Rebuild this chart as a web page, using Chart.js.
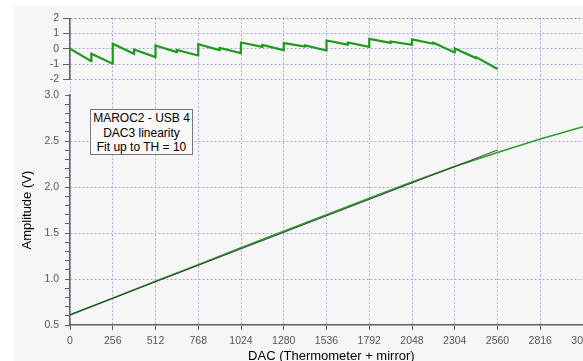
<!DOCTYPE html>
<html>
<head>
<meta charset="utf-8">
<script src="https://cdn.jsdelivr.net/npm/chart.js@4"></script>
<style>
  html, body { margin: 0; padding: 0; background: #fff; overflow: hidden; width: 583px; height: 361px; }
  #panel { position: absolute; left: 14px; top: 6px; width: 620px; height: 370px; background: #f6f6f6; }
  #wrap { position: absolute; left: 0; top: 0; width: 620px; height: 370px; }
  #note {
    position: absolute; left: 90px; top: 109px; width: 101px; height: 43px;
    padding-top: 1px; border: 1px solid #777; background: #f9f9f9;
    font: 12px "Liberation Sans", Arial, sans-serif; color: #000;
    text-align: center; line-height: 14.5px;
  }
</style>
</head>
<body>
<div id="panel"><div id="wrap"><canvas id="c"></canvas></div></div>
<div id="note">MAROC2 - USB 4<br>DAC3 linearity<br>Fit up to TH = 10</div>
<script>
// Residuals of the DAC3 scan with respect to the linear fit (upper panel)
const resDac = [0, 127, 128, 255,
                256, 383, 384, 511,
                512, 639, 640, 767,
                768, 895, 896, 1023,
                1024, 1151, 1152, 1279,
                1280, 1407, 1408, 1535,
                1536, 1663, 1664, 1791,
                1792, 1919, 1920, 2047,
                2048, 2175, 2176, 2303,
                2304, 2431, 2432, 2560];
const resVal = [0.00, -0.81, -0.33, -0.98,
                0.33, -0.33, -0.05, -0.55,
                0.22, -0.22, -0.07, -0.44,
                0.30, -0.09, 0.06, -0.29,
                0.41, 0.12, 0.26, -0.09,
                0.37, 0.15, 0.22, -0.11,
                0.54, 0.27, 0.41, 0.13,
                0.65, 0.39, 0.48, 0.26,
                0.62, 0.33, 0.39, -0.24,
                0.02, -0.61, -0.55, -1.33];

// Measured amplitude versus DAC code (lower panel)
const ampDac = [0, 256, 512, 768, 1024, 1280, 1536, 1792, 2048, 2304, 2560, 2816, 3072];
const ampVal = [0.61, 0.79, 0.975, 1.155, 1.34, 1.52, 1.70, 1.88, 2.055, 2.225, 2.377, 2.523, 2.656];

// Linear fit, drawn over its fitting range
const fitDac = [0, 2560];
const fitVal = [0.612, 2.404];

// Axis ticks
const dacTicks = [0, 256, 512, 768, 1024, 1280, 1536, 1792, 2048, 2304, 2560, 2816, 3072];
const resTicks = [-2, -1, 0, 1, 2];
const ampMajor = [0.5, 1.0, 1.5, 2.0, 2.5, 3.0];

const pts = (xs, ys) => xs.map((x, i) => ({ x: x, y: ys[i] }));

const GRID = '#a9a9d9';
const AXIS = '#606060';
const TICKTXT = '#555';
const isMajor = v => ampMajor.some(m => Math.abs(m - v) < 1e-6);

Chart.defaults.font.family = '"Liberation Sans", Arial, sans-serif';

new Chart(document.getElementById('c'), {
  type: 'line',
  data: {
    datasets: [
      {
        label: 'Fit',
        data: pts(fitDac, fitVal),
        yAxisID: 'yAmp',
        borderColor: 'rgba(45,45,45,0.9)',
        borderWidth: 1,
        pointRadius: 0,
        tension: 0,
        order: 0
      },
      {
        label: 'Amplitude',
        data: pts(ampDac, ampVal),
        yAxisID: 'yAmp',
        borderColor: '#2a9e2a',
        borderWidth: 1.6,
        pointRadius: 0,
        tension: 0,
        order: 1
      },
      {
        label: 'Residual',
        data: pts(resDac, resVal),
        yAxisID: 'yRes',
        borderColor: '#1f9a1f',
        borderWidth: 2.2,
        pointRadius: 0,
        tension: 0,
        order: 2
      }
    ]
  },
  options: {
    responsive: true,
    maintainAspectRatio: false,
    animation: false,
    events: [],
    layout: { padding: { left: 0, top: 12, right: 41.3, bottom: 6 } },
    plugins: { legend: { display: false }, tooltip: { enabled: false } },
    scales: {
      x: {
        type: 'linear',
        min: 0,
        max: 3130,
        afterBuildTicks: s => { s.ticks = dacTicks.map(v => ({ value: v })); },
        afterFit: s => { s.height = 45; },
        ticks: {
          autoSkip: false,
          maxRotation: 0,
          color: TICKTXT,
          font: { size: 10.5 },
          padding: 5,
          callback: v => String(v)
        },
        grid: { color: GRID, tickColor: AXIS, tickLength: 5 },
        border: { color: AXIS, width: 1.5, dash: [2, 2] },
        title: {
          display: true,
          text: 'DAC (Thermometer + mirror)',
          color: '#000',
          font: { size: 13 },
          padding: { top: 2, bottom: 6 }
        }
      },
      // lower panel: defined first so that the stack places it at the bottom
      yAmp: {
        type: 'linear',
        position: 'left',
        stack: 'panels',
        stackWeight: 230,
        min: 0.5,
        max: 3.0,
        afterFit: s => { s.width = 56; },
        ticks: {
          stepSize: 0.1,
          autoSkip: false,
          maxTicksLimit: 40,
          color: TICKTXT,
          font: { size: 10.5 },
          padding: 6,
          callback: v => isMajor(v) ? v.toFixed(1) : ''
        },
        grid: {
          color: c => {
            const v = c.tick ? c.tick.value : 0;
            return (isMajor(v) && Math.abs(v - 0.5) > 1e-6 && Math.abs(v - 3.0) > 1e-6) ? GRID : 'rgba(0,0,0,0)';
          },
          tickColor: AXIS,
          tickLength: 5
        },
        border: { color: AXIS, width: 1.5, dash: [2, 2] },
        title: {
          display: true,
          text: 'Amplitude (V)',
          color: '#000',
          font: { size: 13 },
          padding: { top: 6, bottom: 0 }
        }
      },
      yGap: {
        type: 'linear',
        position: 'left',
        stack: 'panels',
        stackWeight: 16,
        min: 0,
        max: 1,
        afterFit: s => { s.width = 56; },
        ticks: { display: false },
        grid: { display: false },
        border: { display: false }
      },
      yRes: {
        type: 'linear',
        position: 'left',
        stack: 'panels',
        stackWeight: 61,
        min: -2,
        max: 2,
        afterFit: s => { s.width = 56; },
        afterBuildTicks: s => { s.ticks = resTicks.map(v => ({ value: v })); },
        ticks: { autoSkip: false, color: TICKTXT, font: { size: 10.5 }, padding: 4, callback: v => String(v) },
        grid: {
          color: c => (c.tick && c.tick.value === 2) ? '#8a8aa6' : GRID,
          tickColor: AXIS,
          tickLength: 7
        },
        border: { color: AXIS, width: 1.5, dash: [2, 2] }
      }
    }
  }
});
</script>
</body>
</html>
